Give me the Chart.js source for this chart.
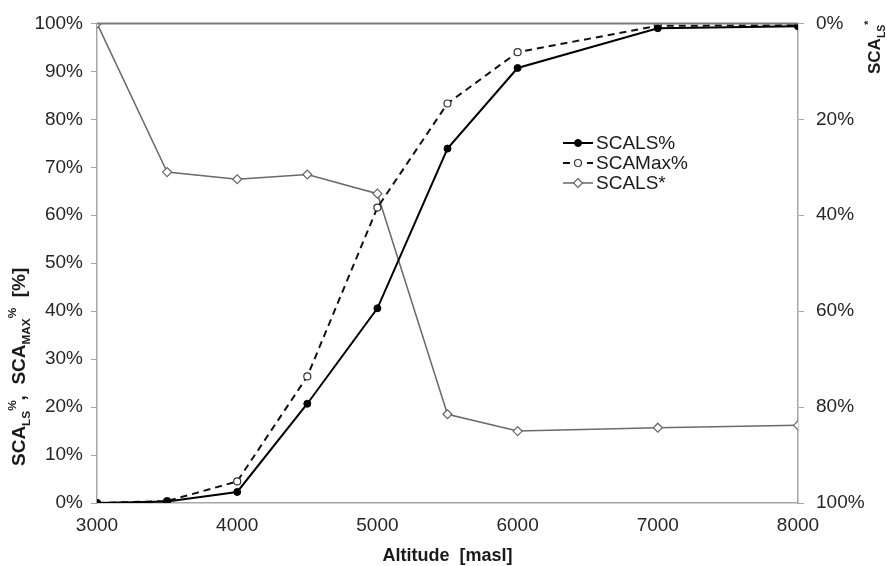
<!DOCTYPE html>
<html>
<head>
<meta charset="utf-8">
<script src="https://cdn.jsdelivr.net/npm/chart.js@4.4.0/dist/chart.umd.min.js"></script>
<style>
  html, body { margin: 0; padding: 0; background: #fff; }
  #wrap { width: 887px; height: 566px; }
</style>
</head>
<body>
<div id="wrap"><canvas id="chart" width="887" height="566"></canvas></div>
<script>
// altitude steps (masl)
const altitudes = [3000, 3500, 4000, 4500, 5000, 5500, 6000, 7000, 8000];
// left axis series, %
const scaLs = [0, 0.3, 2.3, 20.7, 40.6, 73.9, 90.7, 99.0, 99.4];
const scaMax = [0, 0.4, 4.5, 26.4, 61.6, 83.3, 94.0, 99.5, 99.6];
// right axis series (reversed axis), %
const scaLsStar = [0, 31, 32.5, 31.5, 35.5, 81.5, 85, 84.3, 83.8];

const labelNames = ['SCALS%', 'SCAMax%', 'SCALS*'];
const FONT = '"Liberation Sans", Arial, sans-serif';

const toXY = (vals) => vals.map((v, i) => ({ x: altitudes[i], y: v }));

// draw text with sub / superscripts, left to right from (x, y) baseline
function richText(ctx, parts, x, y, size) {
    let cx = x;
    parts.forEach(p => {
        const s = p.sub || p.sup ? size * 0.62 : size;
        ctx.font = 'bold ' + s + 'px ' + FONT;
        const dy = p.sub ? size * 0.28 : (p.sup ? -size * 0.45 : 0);
        ctx.fillText(p.t, cx, y + dy);
        cx += ctx.measureText(p.t).width;
    });
}

const titlesPlugin = {
    id: 'titles',
    afterDraw(chart) {
        const ctx = chart.ctx;
        const area = chart.chartArea;
        ctx.save();
        ctx.fillStyle = '#1a1a1a';
        ctx.textBaseline = 'alphabetic';
        ctx.textAlign = 'left';

        // bottom axis title
        ctx.font = 'bold 18px ' + FONT;
        ctx.textAlign = 'center';
        ctx.fillText('Altitude  [masl]', (area.left + area.right) / 2, 561);
        ctx.textAlign = 'left';

        // left axis title
        ctx.save();
        ctx.translate(25, 466);
        ctx.rotate(-Math.PI / 2);
        richText(ctx, [
            { t: 'SCA' }, { t: 'LS', sub: true }, { t: '%', sup: true },
            { t: ',  SCA' }, { t: 'MAX', sub: true }, { t: '%', sup: true },
            { t: '  [%]' }
        ], 0, 0, 19);
        ctx.restore();

        // right axis title
        ctx.save();
        ctx.translate(880, 74);
        ctx.rotate(-Math.PI / 2);
        richText(ctx, [{ t: 'SCA' }, { t: 'LS', sub: true }, { t: '*', sup: true }], 0, 0, 17);
        ctx.restore();

        // top border of plot
        ctx.strokeStyle = '#7a7a7a';
        ctx.lineWidth = 2;
        ctx.beginPath();
        ctx.moveTo(area.left, area.top);
        ctx.lineTo(area.right, area.top);
        ctx.stroke();

        // legend, styled from the datasets
        const lx = 563, ly = [143, 163, 183];
        chart.data.datasets.forEach((ds, i) => {
            ctx.save();
            ctx.strokeStyle = ds.borderColor;
            ctx.lineWidth = ds.borderWidth;
            ctx.setLineDash(ds.borderDash || []);
            ctx.beginPath();
            ctx.moveTo(lx, ly[i]);
            ctx.lineTo(lx + 30, ly[i]);
            ctx.stroke();
            ctx.setLineDash([]);
            ctx.fillStyle = ds.pointBackgroundColor;
            ctx.strokeStyle = ds.pointBorderColor;
            ctx.lineWidth = ds.pointBorderWidth;
            ctx.beginPath();
            if (ds.pointStyle === 'rectRot') {
                const r = ds.pointRadius;
                ctx.moveTo(lx + 15, ly[i] - r);
                ctx.lineTo(lx + 15 + r, ly[i]);
                ctx.lineTo(lx + 15, ly[i] + r);
                ctx.lineTo(lx + 15 - r, ly[i]);
                ctx.closePath();
            } else {
                ctx.arc(lx + 15, ly[i], ds.pointRadius, 0, Math.PI * 2);
            }
            ctx.fill();
            ctx.stroke();
            ctx.fillStyle = '#1a1a1a';
            ctx.font = '19px ' + FONT;
            ctx.textBaseline = 'middle';
            ctx.fillText(labelNames[i], lx + 33, ly[i] + 1);
            ctx.restore();
        });
        ctx.restore();
    }
};

new Chart(document.getElementById('chart'), {
    type: 'line',
    data: {
        datasets: [
            {
                label: labelNames[0],
                data: toXY(scaLs),
                yAxisID: 'y',
                borderColor: '#000',
                borderWidth: 2,
                pointStyle: 'circle',
                pointRadius: 3.5,
                pointBorderWidth: 1,
                pointBackgroundColor: '#000',
                pointBorderColor: '#000'
            },
            {
                label: labelNames[1],
                data: toXY(scaMax),
                yAxisID: 'y',
                borderColor: '#111',
                borderWidth: 2,
                borderDash: [7, 5],
                pointStyle: 'circle',
                pointRadius: 3.5,
                pointBorderWidth: 1.2,
                pointBackgroundColor: '#fff',
                pointBorderColor: '#333'
            },
            {
                label: labelNames[2],
                data: toXY(scaLsStar),
                yAxisID: 'y2',
                borderColor: '#6a6a6a',
                borderWidth: 1.5,
                pointStyle: 'rectRot',
                pointRadius: 4.5,
                pointBorderWidth: 1.2,
                pointBackgroundColor: '#fff',
                pointBorderColor: '#666'
            }
        ]
    },
    options: {
        responsive: false,
        animation: false,
        layout: { padding: { top: 14, left: 0, right: 0, bottom: 0 } },
        plugins: {
            legend: { display: false },
            tooltip: { enabled: false }
        },
        scales: {
            x: {
                type: 'linear',
                min: 3000,
                max: 8000,
                afterFit: (s) => { s.height = 63; },
                grid: { display: false, drawOnChartArea: false, tickLength: 6, tickColor: '#a6a6a6' },
                border: { color: '#a6a6a6', width: 1.5 },
                ticks: { stepSize: 1000, padding: 5, color: '#262626', font: { family: FONT, size: 19 },
                    callback: (v) => String(v) }
            },
            y: {
                position: 'left',
                min: 0,
                max: 100,
                afterFit: (s) => { s.width = 97; },
                grid: { drawOnChartArea: false, tickLength: 6, tickColor: '#a6a6a6' },
                border: { color: '#a6a6a6', width: 1.5 },
                ticks: { stepSize: 10, padding: 8, color: '#262626', font: { family: FONT, size: 19 },
                    callback: (v) => v + '%' }
            },
            y2: {
                position: 'right',
                reverse: true,
                min: 0,
                max: 100,
                afterFit: (s) => { s.width = 89; },
                grid: { drawOnChartArea: false, tickLength: 6, tickColor: '#a6a6a6' },
                border: { color: '#a6a6a6', width: 1.5 },
                ticks: { stepSize: 20, padding: 12, color: '#262626', font: { family: FONT, size: 19 },
                    callback: (v) => v + '%' }
            }
        }
    },
    plugins: [titlesPlugin]
});
</script>
</body>
</html>
